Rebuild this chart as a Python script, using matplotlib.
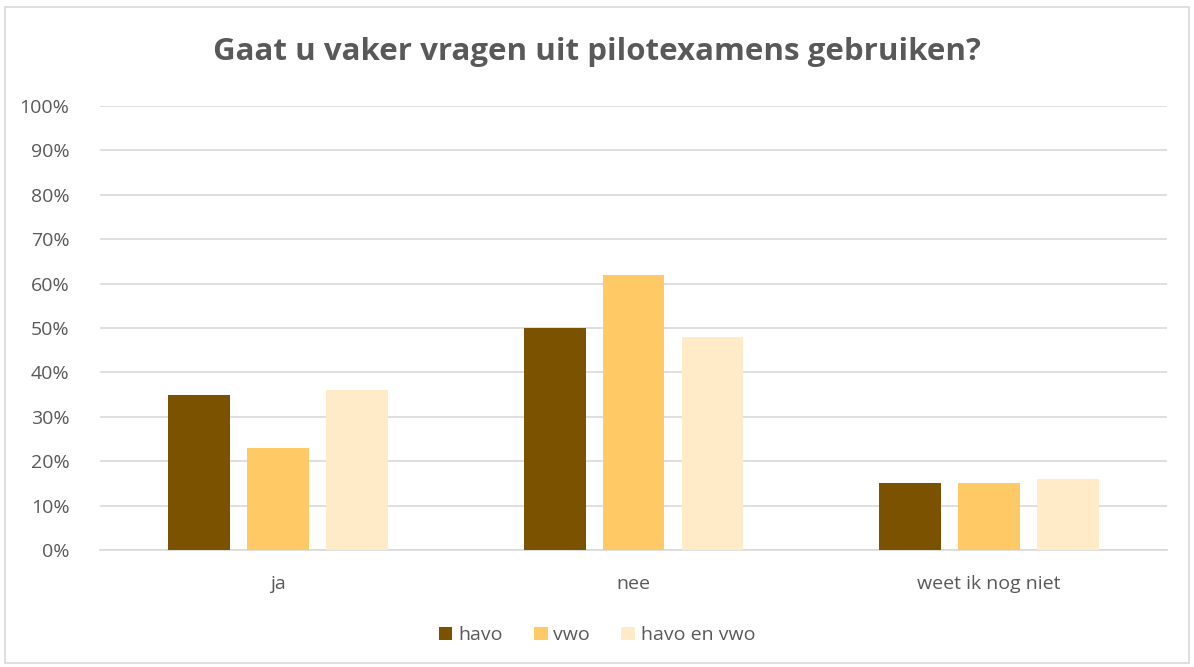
import matplotlib
matplotlib.use("Agg")
import matplotlib.pyplot as plt
import numpy as np
from matplotlib.patches import Rectangle

plt.rcParams['font.family'] = ['Open Sans', 'DejaVu Sans']

categories = ['ja', 'nee', 'weet ik nog niet']
series = ['havo', 'vwo', 'havo en vwo']
havo = [35, 50, 15]
vwo = [23, 62, 15]
havo_vwo = [36, 48, 16]
colors = ['#7B5200', '#FFC965', '#FFEBC8']
yticks = [0, 10, 20, 30, 40, 50, 60, 70, 80, 90, 100]

fig = plt.figure(figsize=(11.94, 6.67), dpi=100)
ax = fig.add_axes([0.0838, 0.1754, 0.8936, 0.6657])

x = np.arange(len(categories))
w = 0.174
step = 0.222
for i, (vals, c, lab) in enumerate(zip([havo, vwo, havo_vwo], colors, series)):
    ax.bar(x + (i - 1) * step, vals, width=w, color=c, label=lab, zorder=3)

ax.set_xlim(-0.5, 2.5)
ax.set_ylim(0, 100)
ax.set_yticks(yticks)
ax.set_yticklabels([f'{v}%' for v in yticks])
ax.set_xticks(x)
ax.set_xticklabels(categories)
ax.tick_params(axis='both', length=0, labelsize=14, colors='#595959')
ax.tick_params(axis='y', pad=22)
ax.tick_params(axis='x', pad=18)
ax.grid(axis='y', color='#D9D9D9', linewidth=1.2, zorder=0)
for s in ['top', 'right', 'left']:
    ax.spines[s].set_visible(False)
ax.spines['bottom'].set_color('#D9D9D9')
ax.spines['bottom'].set_linewidth(1.2)

fig.suptitle('Gaat u vaker vragen uit pilotexamens gebruiken?', x=0.5, y=0.945,
             fontsize=22.5, fontweight='bold', color='#595959')

fig.legend(loc='lower center', bbox_to_anchor=(0.5, 0.008), ncol=3, frameon=False,
           fontsize=14, labelcolor='#595959', handlelength=0.7, handleheight=0.7,
           handletextpad=0.3, columnspacing=1.6)

fig.patches.append(Rectangle((0.004, 0.006), 0.992, 0.983, transform=fig.transFigure,
                             fill=False, edgecolor='#D9D9D9', linewidth=1.2))

fig.savefig('out.png', dpi=100)
